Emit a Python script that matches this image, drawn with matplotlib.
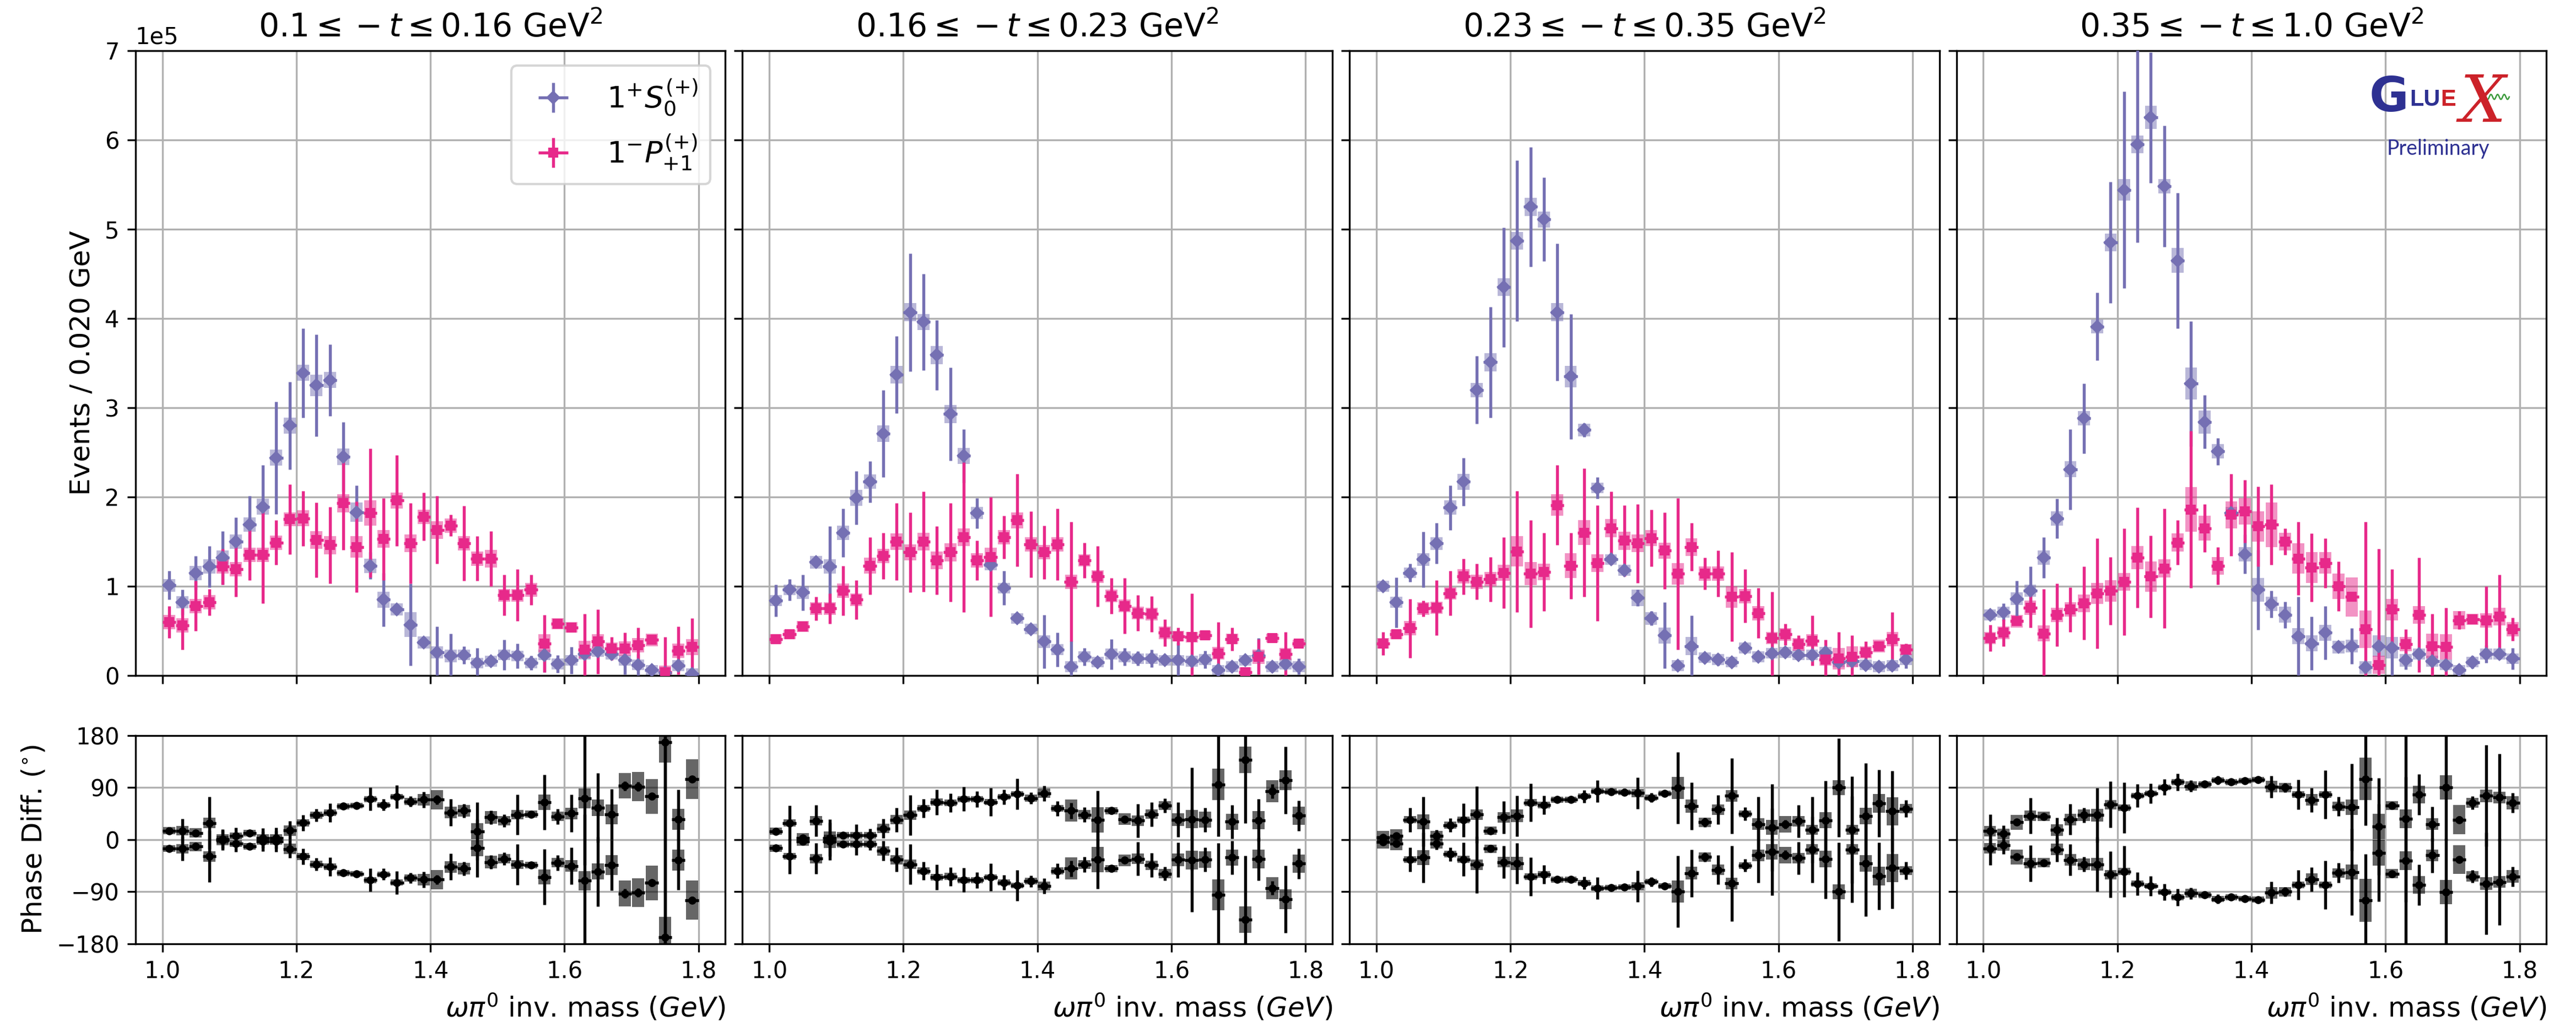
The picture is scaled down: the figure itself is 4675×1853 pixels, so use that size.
import numpy as np
import matplotlib
matplotlib.use('Agg')
import matplotlib.pyplot as plt

# omega pi0 mass bins, 20 MeV wide
mass = np.linspace(1.01, 1.79, 40)
bin_w = 0.02

t_bins = [r'$0.1 \leq -t \leq 0.16$ GeV$^2$',
          r'$0.16 \leq -t \leq 0.23$ GeV$^2$',
          r'$0.23 \leq -t \leq 0.35$ GeV$^2$',
          r'$0.35 \leq -t \leq 1.0$ GeV$^2$']

# intensities in units of 1e5 events / 20 MeV
s_val = [
    [1.01, 0.82, 1.15, 1.22, 1.32, 1.50, 1.69, 1.89, 2.44, 2.80, 3.39, 3.25, 3.31, 2.45, 1.83, 1.23, 0.85, 0.74, 0.57, 0.37,
     0.26, 0.22, 0.23, 0.14, 0.16, 0.23, 0.22, 0.14, 0.23, 0.13, 0.17, 0.24, 0.27, 0.24, 0.17, 0.12, 0.06, 0.03, 0.11, 0.02],
    [0.84, 0.96, 0.93, 1.27, 1.22, 1.60, 1.99, 2.17, 2.71, 3.37, 4.07, 3.96, 3.59, 2.93, 2.46, 1.82, 1.24, 0.98, 0.64, 0.52,
     0.38, 0.29, 0.10, 0.21, 0.15, 0.24, 0.21, 0.19, 0.19, 0.17, 0.17, 0.16, 0.18, 0.06, 0.10, 0.17, 0.22, 0.10, 0.13, 0.10],
    [1.00, 0.82, 1.15, 1.30, 1.48, 1.88, 2.17, 3.20, 3.51, 4.35, 4.87, 5.25, 5.11, 4.07, 3.35, 2.75, 2.10, 1.30, 1.18, 0.87,
     0.64, 0.45, 0.11, 0.33, 0.20, 0.18, 0.15, 0.31, 0.21, 0.25, 0.26, 0.23, 0.23, 0.26, 0.15, 0.16, 0.12, 0.10, 0.11, 0.18],
    [0.68, 0.71, 0.86, 0.95, 1.32, 1.76, 2.31, 2.88, 3.91, 4.85, 5.44, 5.95, 6.25, 5.48, 4.65, 3.27, 2.84, 2.51, 1.82, 1.36,
     0.96, 0.80, 0.68, 0.44, 0.36, 0.48, 0.32, 0.33, 0.09, 0.33, 0.31, 0.17, 0.24, 0.16, 0.12, 0.06, 0.15, 0.24, 0.24, 0.19],
]
s_err = [
    [0.16, 0.14, 0.19, 0.23, 0.30, 0.27, 0.32, 0.47, 0.63, 0.49, 0.50, 0.57, 0.40, 0.39, 0.30, 0.15, 0.30, 0.06, 0.46, 0.04,
     0.29, 0.25, 0.10, 0.17, 0.04, 0.17, 0.14, 0.08, 0.19, 0.10, 0.15, 0.06, 0.05, 0.05, 0.16, 0.12, 0.05, 0.04, 0.06, 0.05],
    [0.18, 0.12, 0.20, 0.06, 0.45, 0.27, 0.30, 0.23, 0.49, 0.43, 0.66, 0.54, 0.39, 0.52, 0.30, 0.17, 0.07, 0.19, 0.04, 0.04,
     0.30, 0.19, 0.29, 0.10, 0.04, 0.17, 0.10, 0.08, 0.10, 0.05, 0.20, 0.05, 0.10, 0.05, 0.04, 0.04, 0.20, 0.06, 0.05, 0.09],
    [0.06, 0.28, 0.10, 0.31, 0.23, 0.25, 0.27, 0.38, 0.62, 0.67, 0.90, 0.67, 0.47, 0.77, 0.70, 0.08, 0.12, 0.05, 0.04, 0.09,
     0.08, 0.37, 0.04, 0.34, 0.03, 0.07, 0.06, 0.06, 0.05, 0.04, 0.04, 0.04, 0.04, 0.04, 0.04, 0.04, 0.04, 0.04, 0.04, 0.10],
    [0.04, 0.10, 0.20, 0.27, 0.23, 0.22, 0.45, 0.39, 0.38, 0.68, 1.10, 1.10, 0.73, 0.68, 0.76, 0.70, 0.30, 0.15, 0.05, 0.22,
     0.45, 0.15, 0.15, 0.44, 0.30, 0.30, 0.05, 0.20, 0.05, 0.10, 0.35, 0.10, 0.05, 0.05, 0.05, 0.04, 0.07, 0.10, 0.06, 0.12],
]
s_sys = [
    [0.07, 0.07, 0.08, 0.08, 0.08, 0.08, 0.08, 0.09, 0.09, 0.09, 0.09, 0.12, 0.09, 0.09, 0.11, 0.08, 0.09, 0.07, 0.14, 0.07,
     0.07, 0.07, 0.06, 0.06, 0.06, 0.06, 0.06, 0.06, 0.06, 0.06, 0.06, 0.06, 0.06, 0.06, 0.06, 0.06, 0.06, 0.06, 0.06, 0.06],
    [0.06, 0.06, 0.07, 0.07, 0.08, 0.08, 0.09, 0.08, 0.09, 0.10, 0.10, 0.09, 0.10, 0.10, 0.09, 0.07, 0.06, 0.06, 0.06, 0.06,
     0.07, 0.06, 0.06, 0.06, 0.06, 0.06, 0.06, 0.06, 0.06, 0.06, 0.06, 0.06, 0.06, 0.06, 0.06, 0.06, 0.06, 0.06, 0.06, 0.06],
    [0.06, 0.06, 0.06, 0.07, 0.07, 0.08, 0.09, 0.08, 0.10, 0.10, 0.10, 0.10, 0.09, 0.10, 0.12, 0.07, 0.06, 0.06, 0.06, 0.09,
     0.07, 0.09, 0.06, 0.10, 0.06, 0.06, 0.06, 0.06, 0.06, 0.06, 0.06, 0.06, 0.06, 0.06, 0.06, 0.06, 0.06, 0.06, 0.06, 0.06],
    [0.06, 0.06, 0.07, 0.07, 0.08, 0.08, 0.09, 0.08, 0.08, 0.10, 0.12, 0.10, 0.13, 0.08, 0.14, 0.18, 0.13, 0.08, 0.07, 0.08,
     0.13, 0.08, 0.09, 0.09, 0.09, 0.09, 0.07, 0.07, 0.07, 0.12, 0.12, 0.07, 0.06, 0.06, 0.06, 0.06, 0.06, 0.06, 0.06, 0.06],
]

p_val = [
    [0.60, 0.56, 0.78, 0.82, 1.22, 1.19, 1.35, 1.35, 1.49, 1.75, 1.76, 1.52, 1.46, 1.93, 1.44, 1.82, 1.53, 1.96, 1.48, 1.78,
     1.63, 1.68, 1.48, 1.31, 1.31, 0.90, 0.90, 0.96, 0.36, 0.58, 0.54, 0.29, 0.38, 0.30, 0.30, 0.34, 0.40, 0.04, 0.28, 0.32],
    [0.41, 0.46, 0.55, 0.75, 0.75, 0.95, 0.85, 1.23, 1.34, 1.50, 1.38, 1.50, 1.29, 1.38, 1.55, 1.29, 1.33, 1.55, 1.74, 1.47,
     1.38, 1.47, 1.05, 1.29, 1.11, 0.89, 0.78, 0.70, 0.69, 0.48, 0.44, 0.43, 0.45, 0.25, 0.41, 0.04, 0.21, 0.42, 0.24, 0.36],
    [0.36, 0.46, 0.53, 0.75, 0.76, 0.92, 1.11, 1.05, 1.08, 1.15, 1.39, 1.14, 1.16, 1.91, 1.23, 1.60, 1.26, 1.65, 1.51, 1.48,
     1.54, 1.40, 1.14, 1.44, 1.14, 1.14, 0.88, 0.89, 0.70, 0.42, 0.46, 0.35, 0.39, 0.18, 0.19, 0.21, 0.26, 0.33, 0.41, 0.29],
    [0.42, 0.48, 0.61, 0.76, 0.47, 0.68, 0.74, 0.81, 0.92, 0.95, 1.05, 1.32, 1.11, 1.20, 1.49, 1.86, 1.65, 1.23, 1.80, 1.84,
     1.67, 1.69, 1.50, 1.31, 1.21, 1.26, 1.00, 0.88, 0.52, 0.12, 0.74, 0.35, 0.68, 0.33, 0.32, 0.62, 0.63, 0.62, 0.66, 0.52],
]
p_err = [
    [0.18, 0.27, 0.28, 0.15, 0.20, 0.31, 0.28, 0.54, 0.25, 0.39, 0.31, 0.42, 0.43, 0.52, 0.51, 0.72, 0.46, 0.51, 0.45, 0.27,
     0.38, 0.12, 0.42, 0.25, 0.31, 0.23, 0.29, 0.17, 0.32, 0.04, 0.04, 0.40, 0.36, 0.13, 0.18, 0.20, 0.05, 0.39, 0.27, 0.32],
    [0.03, 0.03, 0.04, 0.13, 0.17, 0.28, 0.22, 0.32, 0.26, 0.43, 0.45, 0.56, 0.38, 0.55, 0.84, 0.22, 0.67, 0.24, 0.52, 0.37,
     0.30, 0.40, 0.67, 0.20, 0.34, 0.20, 0.31, 0.20, 0.20, 0.15, 0.10, 0.49, 0.04, 0.35, 0.13, 0.05, 0.20, 0.04, 0.25, 0.04],
    [0.13, 0.03, 0.33, 0.09, 0.31, 0.25, 0.20, 0.20, 0.25, 0.40, 0.68, 0.60, 0.44, 0.45, 0.37, 0.72, 0.65, 0.41, 0.40, 0.44,
     0.32, 0.43, 0.85, 0.27, 0.18, 0.26, 0.50, 0.30, 0.28, 0.52, 0.12, 0.10, 0.28, 0.22, 0.30, 0.24, 0.12, 0.04, 0.30, 0.07],
    [0.15, 0.15, 0.04, 0.22, 0.50, 0.35, 0.25, 0.41, 0.62, 0.38, 0.60, 0.56, 0.46, 0.67, 0.25, 0.88, 0.27, 0.21, 0.46, 0.35,
     0.45, 0.45, 0.15, 0.41, 0.38, 0.28, 0.28, 0.04, 1.20, 1.30, 0.45, 0.17, 0.64, 0.36, 0.44, 0.10, 0.04, 0.38, 0.47, 0.13],
]
p_sys = [
    [0.08, 0.08, 0.08, 0.08, 0.08, 0.08, 0.08, 0.08, 0.08, 0.08, 0.09, 0.10, 0.10, 0.10, 0.12, 0.14, 0.10, 0.09, 0.10, 0.08,
     0.10, 0.08, 0.08, 0.08, 0.10, 0.07, 0.07, 0.08, 0.10, 0.06, 0.06, 0.10, 0.08, 0.07, 0.08, 0.08, 0.07, 0.07, 0.08, 0.09],
    [0.05, 0.05, 0.06, 0.07, 0.07, 0.08, 0.07, 0.09, 0.08, 0.09, 0.09, 0.10, 0.10, 0.10, 0.10, 0.08, 0.10, 0.08, 0.09, 0.08,
     0.08, 0.08, 0.08, 0.07, 0.07, 0.07, 0.07, 0.07, 0.07, 0.07, 0.06, 0.06, 0.05, 0.07, 0.06, 0.05, 0.08, 0.05, 0.07, 0.04],
    [0.06, 0.05, 0.08, 0.07, 0.07, 0.07, 0.08, 0.08, 0.08, 0.09, 0.17, 0.13, 0.09, 0.12, 0.14, 0.14, 0.10, 0.10, 0.10, 0.10,
     0.09, 0.09, 0.12, 0.10, 0.08, 0.08, 0.12, 0.08, 0.08, 0.07, 0.07, 0.07, 0.07, 0.07, 0.12, 0.12, 0.07, 0.07, 0.08, 0.06],
    [0.07, 0.07, 0.07, 0.08, 0.09, 0.08, 0.08, 0.10, 0.12, 0.12, 0.10, 0.13, 0.17, 0.10, 0.10, 0.25, 0.14, 0.10, 0.15, 0.15,
     0.17, 0.25, 0.10, 0.17, 0.17, 0.12, 0.14, 0.22, 0.21, 0.10, 0.12, 0.08, 0.10, 0.14, 0.14, 0.10, 0.06, 0.08, 0.10, 0.08],
]

# |phase difference| in degrees; drawn with both signs (sign ambiguity)
ph_val = [
    [15.5, 15.5, 11.7, 28.8, 1.3, 6.6, 11.4, 3.0, 3.0, 16.0, 29.0, 42.5, 46.6, 57.7, 59.0, 70.0, 60.0, 74.0, 66.0, 69.0,
     69.0, 47.0, 50.0, 14.6, 38.7, 33.0, 43.0, 44.0, 64.6, 40.0, 45.6, 71.0, 55.0, 43.7, 93.0, 91.6, 74.8, 168.6, 35.0, 104.6],
    [14.6, 28.8, 3.0, 32.6, 3.0, 7.6, 7.6, 7.6, 19.3, 34.5, 42.5, 54.0, 65.0, 63.7, 70.0, 70.0, 65.0, 74.0, 79.0, 71.6,
     80.0, 54.0, 50.0, 43.0, 34.5, 50.0, 35.5, 33.0, 44.0, 59.0, 34.5, 35.5, 34.5, 95.4, 31.0, 138.0, 33.6, 83.7, 102.7, 41.5],
    [4.0, 7.0, 34.5, 31.0, 7.0, 25.0, 34.0, 43.4, 15.5, 38.7, 41.0, 64.0, 60.0, 69.0, 69.0, 75.0, 83.7, 83.0, 82.0, 80.5,
     72.6, 80.0, 89.4, 58.0, 30.0, 52.0, 75.7, 44.7, 27.0, 21.0, 26.6, 32.0, 17.0, 33.6, 90.0, 17.0, 41.0, 63.0, 49.0, 53.5],
    [15.0, 10.0, 30.0, 41.0, 40.0, 17.0, 35.0, 42.5, 42.5, 60.5, 55.0, 76.0, 80.0, 90.6, 99.5, 92.5, 95.7, 102.7, 99.5, 102.0,
     103.6, 91.6, 90.0, 78.0, 68.5, 78.0, 57.4, 56.0, 105.0, 22.5, 59.0, 36.0, 78.0, 27.0, 90.6, 34.5, 63.7, 76.0, 73.0, 63.7],
]
ph_err = [
    [6, 21, 4, 45, 17, 14, 6, 17, 18, 16, 14, 11, 16, 4, 3, 20, 10, 20, 9, 14,
     8, 23, 12, 50, 12, 11, 35, 4, 48, 13, 32, 115, 60, 44, 8, 8, 6, 360, 52, 6],
    [5, 30, 5, 27, 32, 5, 19, 11, 17, 21, 35, 16, 22, 16, 21, 14, 24, 13, 27, 10,
     13, 13, 14, 13, 50, 6, 5, 29, 21, 12, 30, 89, 21, 90, 29, 110, 37, 12, 58, 26],
    [5, 5, 21, 43, 10, 12, 29, 49, 5, 28, 35, 33, 16, 5, 4, 11, 19, 6, 6, 27,
     8, 5, 62, 41, 8, 25, 65, 11, 47, 75, 8, 28, 57, 68, 85, 92, 91, 58, 70, 15],
    [29, 15, 5, 31, 5, 21, 27, 13, 47, 40, 44, 20, 17, 14, 15, 10, 5, 8, 5, 5,
     5, 19, 8, 26, 21, 42, 17, 75, 80, 84, 6, 144, 35, 30, 92, 6, 11, 88, 75, 17],
]
ph_sys = [
    [6, 8, 8, 9, 8, 6, 6, 6, 6, 9, 6, 6, 6, 5, 5, 5, 5, 5, 6, 10,
     17, 10, 10, 14, 11, 8, 8, 6, 13, 8, 10, 17, 14, 17, 22, 25, 30, 35, 18, 34],
    [6, 6, 8, 8, 11, 6, 6, 6, 8, 8, 8, 6, 6, 6, 5, 5, 5, 5, 5, 6,
     8, 6, 19, 8, 22, 6, 10, 9, 8, 8, 11, 16, 14, 27, 14, 23, 16, 19, 17, 16],
    [11, 11, 6, 13, 8, 6, 6, 9, 7, 9, 11, 6, 6, 5, 5, 5, 5, 5, 5, 7,
     5, 5, 19, 11, 8, 9, 10, 6, 10, 13, 14, 9, 9, 14, 13, 9, 14, 16, 24, 8],
    [9, 9, 13, 9, 8, 10, 10, 10, 11, 8, 6, 5, 5, 5, 5, 8, 5, 5, 5, 5,
     5, 10, 8, 6, 10, 6, 8, 13, 37, 22, 8, 16, 15, 10, 21, 25, 9, 11, 10, 11],
]

c_s = '#7570b3'
c_p = '#e7298a'
scale = 1e5

fig = plt.figure(figsize=(4675 / 300, 1853 / 300), dpi=300)
gs = fig.add_gridspec(2, 4, height_ratios=[3, 1], left=0.0526, right=0.9885,
                      top=0.9504, bottom=0.0756, wspace=0.029, hspace=0.144)

top_axes, bot_axes = [], []
for i in range(4):
    ax = fig.add_subplot(gs[0, i], sharey=top_axes[0] if top_axes else None)
    axp = fig.add_subplot(gs[1, i], sharex=ax, sharey=bot_axes[0] if bot_axes else None)
    top_axes.append(ax)
    bot_axes.append(axp)

    # intensities with systematic boxes
    for val, err, sys, col, mk, lab in [
            (s_val[i], s_err[i], s_sys[i], c_s, 'D', r'$1^{+}S_{0}^{(+)}$'),
            (p_val[i], p_err[i], p_sys[i], c_p, 's', r'$1^{-}P_{+1}^{(+)}$')]:
        v = np.array(val) * scale
        sy = np.array(sys) * scale
        ax.bar(mass, 2 * sy, bottom=v - sy, width=0.9 * bin_w, color=col,
               alpha=0.5, linewidth=0, zorder=2)
        ax.errorbar(mass, v, xerr=bin_w / 2, yerr=np.array(err) * scale,
                    fmt=mk, color=col, ms=3.5, elinewidth=1.3, capsize=0,
                    label=lab, zorder=3)

    ax.set_ylim(0, 7e5)
    ax.set_title(t_bins[i], fontsize=14)
    ax.grid(True, color='#b0b0b0', lw=0.8)
    ax.set_axisbelow(True)
    ax.tick_params(labelbottom=False, labelsize=10)
    if i > 0:
        ax.tick_params(labelleft=False)

    # phase difference, mirrored
    pv = np.array(ph_val[i])
    pe = np.array(ph_err[i])
    ps = np.array(ph_sys[i])
    for sgn in (1, -1):
        axp.bar(mass, 2 * ps, bottom=sgn * pv - ps, width=0.9 * bin_w,
                color='k', alpha=0.6, linewidth=0, zorder=2)
        axp.errorbar(mass, sgn * pv, xerr=bin_w / 2, yerr=pe, fmt='o',
                     color='k', ms=2.5, elinewidth=1.3, capsize=0, zorder=3)
    axp.set_ylim(-180, 180)
    axp.set_yticks([-180, -90, 0, 90, 180])
    axp.set_xticks([1.0, 1.2, 1.4, 1.6, 1.8])
    axp.grid(True, color='#b0b0b0', lw=0.8)
    axp.set_axisbelow(True)
    axp.tick_params(labelsize=10)
    if i > 0:
        axp.tick_params(labelleft=False)
    axp.set_xlabel(r'$\omega\pi^0$ inv. mass ($GeV$)', fontsize=12, loc='right')

top_axes[0].ticklabel_format(axis='y', style='sci', scilimits=(0, 0))
top_axes[0].yaxis.get_offset_text().set_fontsize(10)
top_axes[0].set_ylabel('Events / 0.020 GeV', fontsize=12)
bot_axes[0].set_ylabel(r'Phase Diff. ($^{\circ}$)', fontsize=12)
top_axes[0].legend(loc='upper right', fontsize=13, framealpha=0.8)

# GlueX preliminary label
ax4 = top_axes[3]
navy = '#2e3192'
red = '#cc2229'
ax4.text(0.700, 0.903, 'G', transform=ax4.transAxes, fontsize=21,
         fontweight='bold', color=navy, ha='left', va='baseline')
ax4.text(0.768, 0.912, 'LU', transform=ax4.transAxes, fontsize=10,
         fontweight='bold', family='Liberation Sans', color=navy,
         ha='left', va='baseline')
ax4.text(0.821, 0.912, 'E', transform=ax4.transAxes, fontsize=10,
         fontweight='bold', family='Liberation Sans', color=red,
         ha='left', va='baseline')
ax4.text(0.892, 0.886, 'X', transform=ax4.transAxes, fontsize=28,
         family='DejaVu Serif', style='italic', color=red, ha='center',
         va='baseline')
wx = np.linspace(0.892, 0.937, 60)
ax4.plot(wx, 0.926 + 0.004 * np.sin((wx - 0.892) / 0.045 * 4 * 2 * np.pi),
         transform=ax4.transAxes, color='#3a9a3a', lw=0.6)
ax4.text(0.817, 0.843, 'Preliminary', transform=ax4.transAxes, fontsize=9,
         color=navy, ha='center', va='center', family='Lato')

fig.savefig('out.png', dpi=300)
